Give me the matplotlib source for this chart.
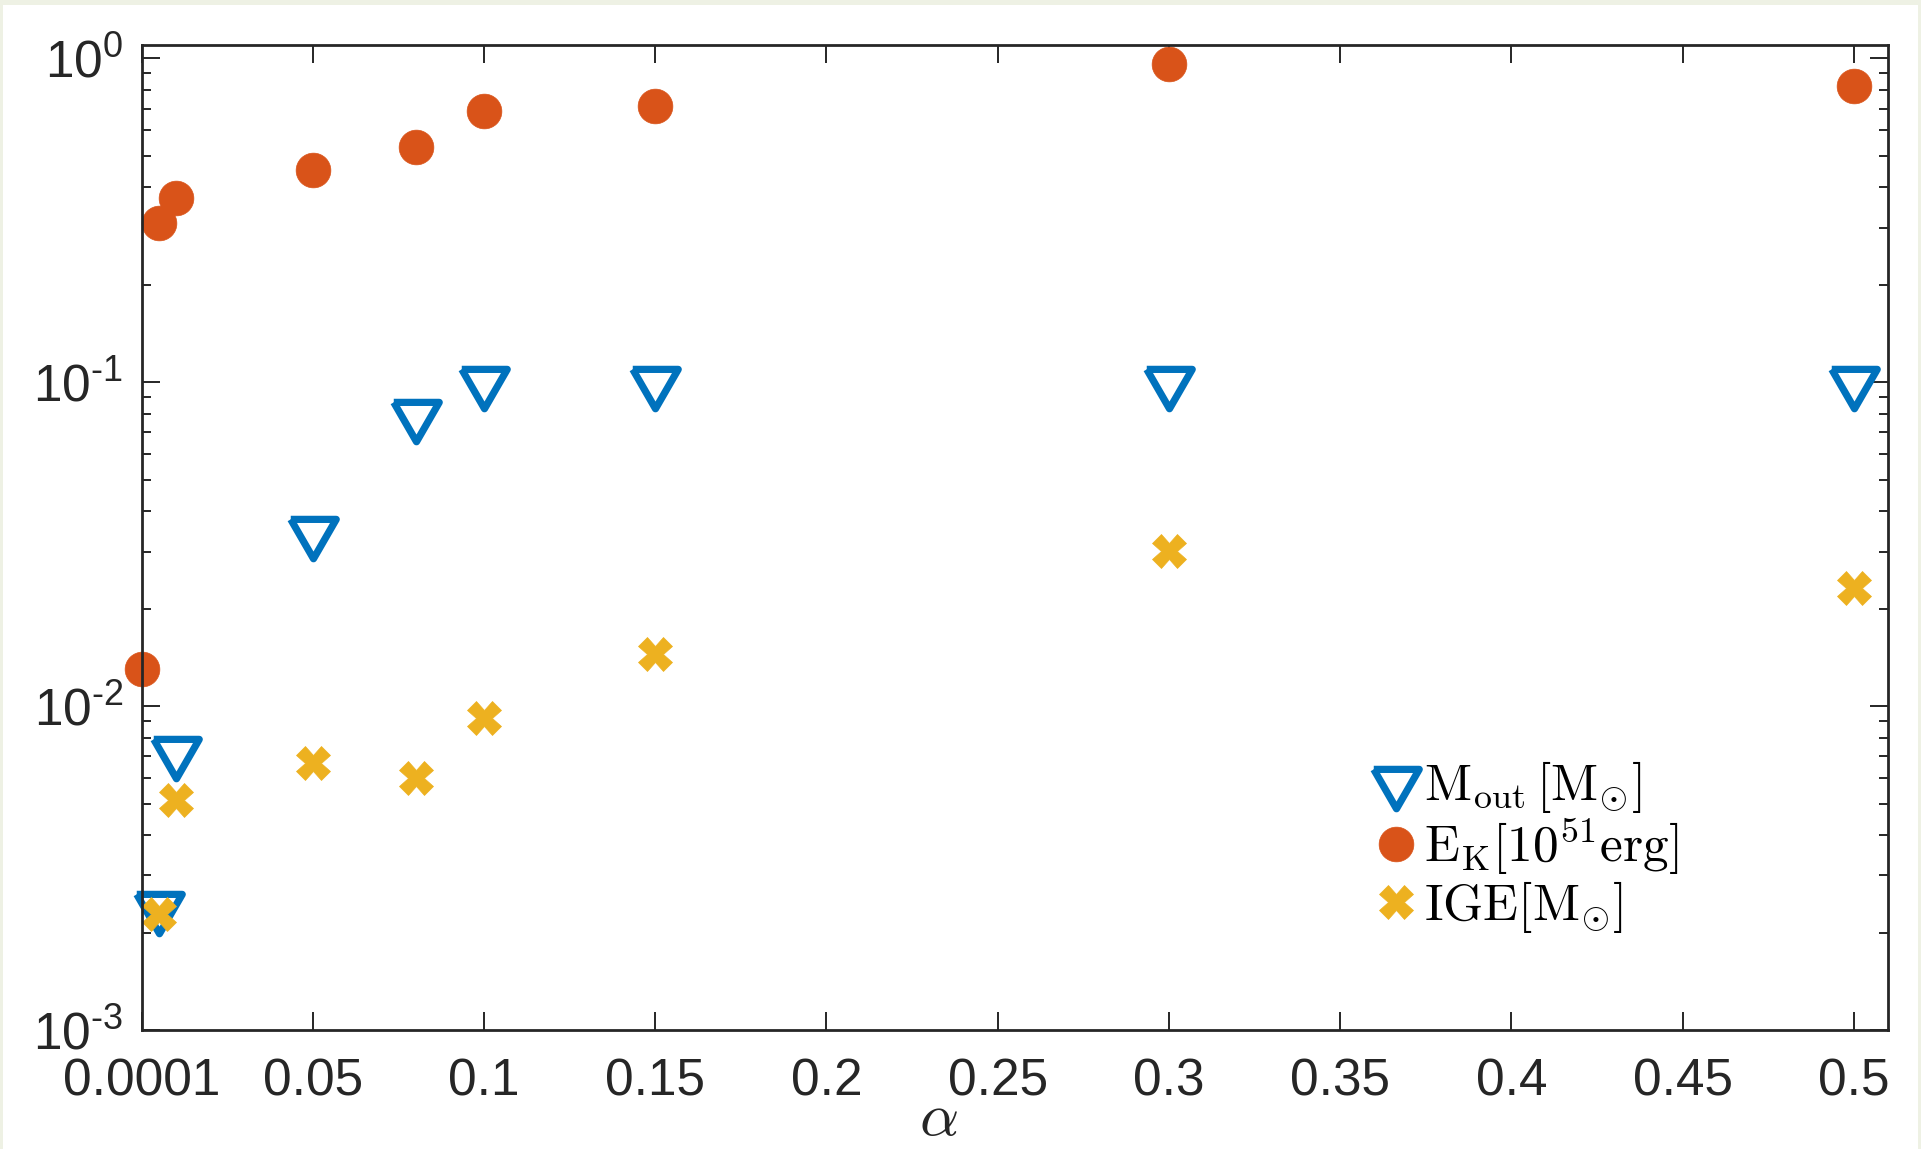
import numpy as np
import matplotlib
matplotlib.use("Agg")
import matplotlib.pyplot as plt
from matplotlib.markers import MarkerStyle
from matplotlib.patches import Rectangle
from matplotlib.ticker import LogLocator, NullFormatter, FuncFormatter

plt.rcParams['font.family'] = ['Liberation Sans', 'DejaVu Sans']
plt.rcParams['mathtext.fontset'] = 'cm'

# alpha values
alpha_ek = [0.0001, 0.005, 0.01, 0.05, 0.08, 0.1, 0.15, 0.3, 0.5]
alpha_m = [0.005, 0.01, 0.05, 0.08, 0.1, 0.15, 0.3, 0.5]

# series
ek = [0.013, 0.311, 0.370, 0.451, 0.531, 0.690, 0.711, 0.96, 0.82]
m_out = [0.0024, 0.0072, 0.0344, 0.0794, 0.1, 0.1, 0.1, 0.1]
ige = [0.00228, 0.00512, 0.00669, 0.00601, 0.00918, 0.01448, 0.0301, 0.0232]

xticks = [0.0001, 0.05, 0.1, 0.15, 0.2, 0.25, 0.3, 0.35, 0.4, 0.45, 0.5]
xticklabels = ['0.0001', '0.05', '0.1', '0.15', '0.2', '0.25', '0.3', '0.35', '0.4', '0.45', '0.5']

blue = '#0072BD'
orange = '#D95319'
yellow = '#EDB120'
axcol = '#262626'

W, H = 1921, 1149
fig = plt.figure(figsize=(W/100, H/100), dpi=100, facecolor='#eef1e4')
fig.patches.append(Rectangle((3/W, 0), 1915/W, 1 - 5/H, transform=fig.transFigure,
                             facecolor='white', edgecolor='none', zorder=-10))

ax = fig.add_axes([142/W, 1 - 1030/H, (1888-142)/W, (1030-45)/H])
ax.set_facecolor('white')

# triangle with its centroid on the data point (as matlab does)
s3 = np.sqrt(3)
tri = MarkerStyle([(-1, 1/s3), (1, 1/s3), (0, -2/s3), (-1, 1/s3)], joinstyle='miter')

ax.plot(alpha_m, m_out, linestyle='none', marker=tri, ms=37.8, mfc='none',
        mec=blue, mew=5.2, clip_on=False,
        label=r'$\mathrm{M_{out}}\,[\mathrm{M}_{\odot}]$')
ax.plot(alpha_ek, ek, linestyle='none', marker='o', ms=25, mfc=orange, mec=orange,
        mew=0.5, clip_on=False, label=r'$\mathrm{E_{K}}[10^{51}\mathrm{erg}]$')
ax.plot(alpha_m, ige, linestyle='none', marker='X', ms=24, mfc=yellow, mec=yellow,
        mew=0.5, clip_on=False, label=r'$\mathrm{IGE}[\mathrm{M}_{\odot}]$')

ax.set_yscale('log')
ax.set_xlim(0.0001, 0.51)
ax.set_ylim(1e-3, 1.1)
ax.set_xticks(xticks)
ax.set_xticklabels(xticklabels)
ax.yaxis.set_major_locator(LogLocator(base=10, numticks=10))
ax.yaxis.set_minor_locator(LogLocator(base=10, subs=np.arange(2, 10), numticks=20))
ax.yaxis.set_minor_formatter(NullFormatter())


def decade(v, p):
    e = int(round(np.log10(v)))
    s = str(e).replace('-', '\u2010')
    return r'$\mathregular{10^{' + s + '}}$'


ax.yaxis.set_major_formatter(FuncFormatter(decade))

ax.tick_params(which='both', direction='in', top=True, right=True, color=axcol,
               labelcolor=axcol, width=1.4)
ax.tick_params(which='major', length=13, labelsize=37)
ax.tick_params(which='minor', length=6.5)
ax.tick_params(axis='x', pad=20)
ax.tick_params(axis='y', pad=13.5)
for sp in ax.spines.values():
    sp.set_color(axcol)
    sp.set_linewidth(2)

ax.set_xlabel(r'$\alpha$', fontsize=44, color=axcol)
ax.xaxis.set_label_coords(0.456, -0.062)

ax.legend(frameon=False, fontsize=37, handlelength=1.0, handletextpad=0.06,
          labelspacing=0.03, borderpad=0, borderaxespad=0, loc='center left',
          bbox_to_anchor=(1370/W, 1 - 847/H), bbox_transform=fig.transFigure)

fig.savefig('out.png', dpi=100, facecolor=fig.get_facecolor())
